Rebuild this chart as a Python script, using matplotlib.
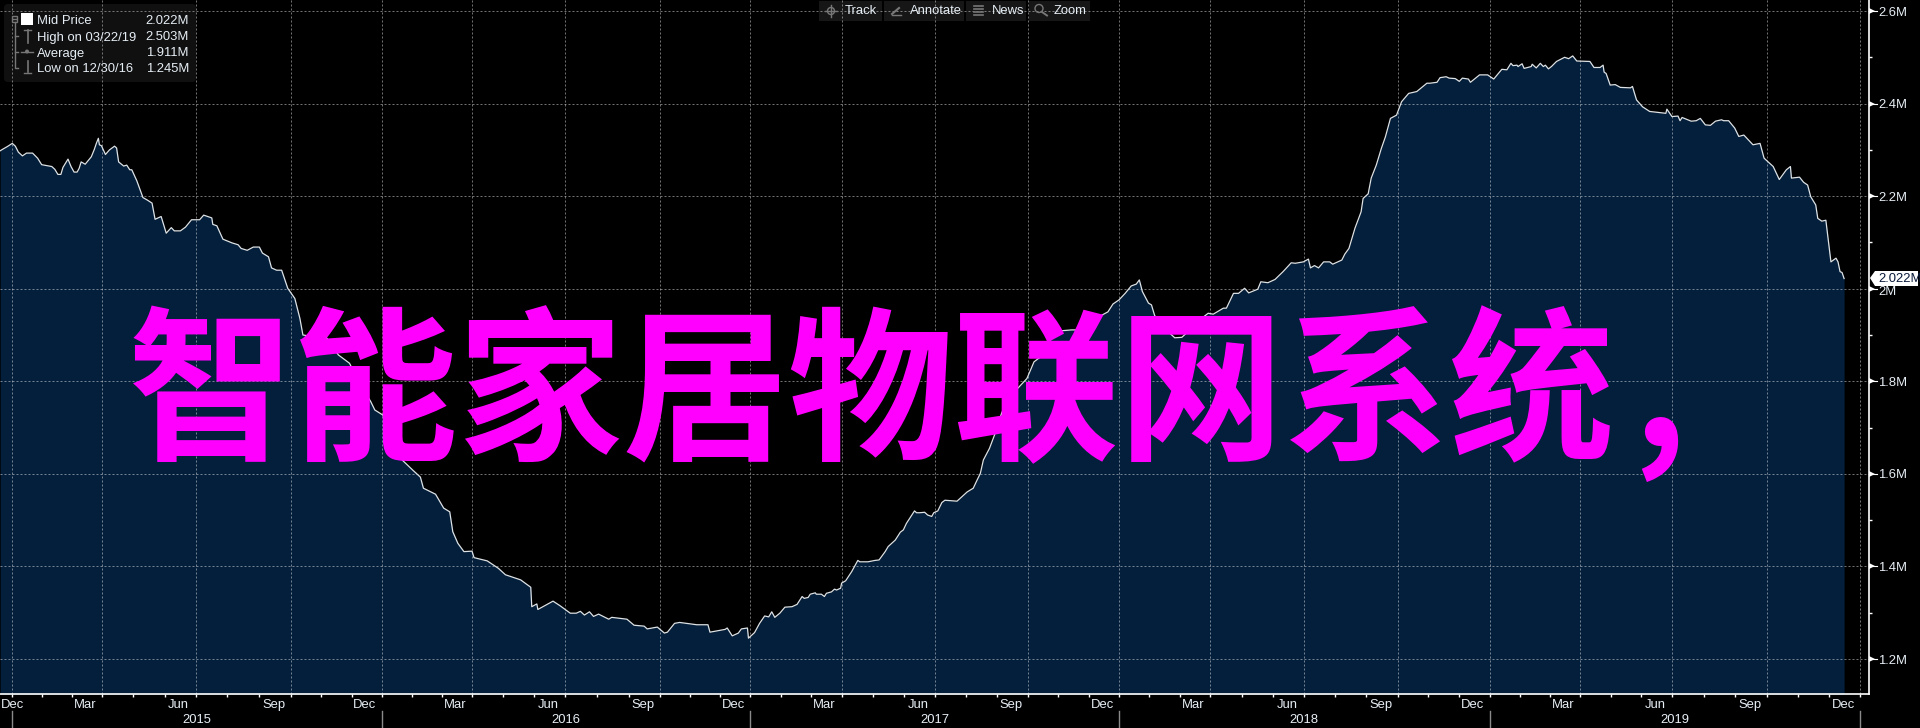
import matplotlib
matplotlib.use('Agg')
import matplotlib.pyplot as plt
from matplotlib.patches import Rectangle, FancyBboxPatch, Polygon, Circle

plt.rcParams['font.family'] = ['Liberation Sans', 'DejaVu Sans']

# dias desde el 31/12/2014
dias = [-12, -9, -5, 0, 3, 6, 10, 14, 20, 25, 29, 39, 42, 45, 48, 50, 55, 58, 61, 64, 66, 68, 72, 78, 81, 83, 85, 86, 88,
        92, 96, 101, 103, 105, 110, 113, 116, 118, 123, 129, 133, 138, 141, 147, 152, 157, 160, 166, 171, 177, 185, 189,
        197, 198, 202, 208, 217, 223, 226, 232, 238, 244, 247, 253, 256, 261, 266, 272, 279, 284, 287, 299, 310, 322,
        333, 343, 354, 358, 366, 375, 385, 396, 403, 406, 418, 426, 432, 435, 440, 446, 454, 456, 469, 480, 487, 502,
        512, 513, 518, 519, 534, 541, 551, 557, 561, 565, 570, 574, 579, 589, 592, 607, 614, 624, 627, 637, 644, 647,
        654, 659, 676, 687, 689, 704, 706, 711, 717, 720, 726, 727, 733, 738, 743, 747, 750, 753, 758, 763, 770, 775,
        780, 782, 786, 788, 793, 794, 799, 802, 804, 809, 812, 814, 818, 819, 823, 829, 835, 837, 845, 852, 856, 862,
        865, 872, 877, 880, 883, 891, 893, 896, 901, 904, 908, 910, 914, 918, 921, 933, 936, 943, 949, 952, 956, 959,
        965, 970, 977, 984, 993, 1002, 1009, 1015, 1025, 1035, 1046, 1053, 1056, 1061, 1071, 1082, 1087, 1093, 1099,
        1105, 1110, 1113, 1116, 1122, 1125, 1128, 1138, 1143, 1148, 1155, 1161, 1171, 1181, 1186, 1196, 1199, 1206,
        1211, 1217, 1221, 1230, 1233, 1240, 1247, 1255, 1263, 1267, 1275, 1280, 1282, 1286, 1290, 1295, 1301, 1304,
        1313, 1316, 1320, 1326, 1332, 1334, 1339, 1342, 1347, 1352, 1356, 1361, 1367, 1372, 1379, 1387, 1397, 1400,
        1407, 1410, 1416, 1419, 1425, 1429, 1432, 1438, 1440, 1449, 1457, 1463, 1471, 1476, 1480, 1482, 1486, 1487,
        1491, 1493, 1500, 1501, 1505, 1509, 1512, 1514, 1517, 1520, 1525, 1533, 1537, 1541, 1545, 1558, 1562, 1568,
        1571, 1572, 1574, 1578, 1583, 1588, 1598, 1600, 1604, 1610, 1617, 1633, 1634, 1639, 1645, 1647, 1649, 1658,
        1663, 1667, 1672, 1677, 1682, 1688, 1690, 1695, 1701, 1705, 1710, 1719, 1726, 1730, 1739, 1745, 1752, 1756,
        1757, 1765, 1769, 1773, 1776, 1781, 1783, 1787, 1791, 1793, 1796, 1801, 1803, 1805, 1807, 1809]
precio = [2.298, 2.302, 2.307, 2.314, 2.308, 2.295, 2.287, 2.293, 2.293, 2.282, 2.268, 2.264, 2.258, 2.247, 2.247, 2.262,
          2.280, 2.264, 2.252, 2.252, 2.260, 2.274, 2.269, 2.285, 2.301, 2.314, 2.325, 2.311, 2.309,
          2.290, 2.300, 2.308, 2.304, 2.274, 2.265, 2.267, 2.257, 2.257, 2.233, 2.197, 2.192, 2.185, 2.150, 2.156, 2.120,
          2.132, 2.125, 2.125, 2.133, 2.149, 2.149, 2.159,
          2.153, 2.139, 2.136, 2.107, 2.099, 2.095, 2.087, 2.083, 2.090, 2.090, 2.077, 2.069, 2.045, 2.040, 2.040, 2.001,
          1.979, 1.936, 1.900, 1.896, 1.895, 1.857,
          1.839, 1.796, 1.756, 1.738, 1.727, 1.680, 1.630, 1.607, 1.593, 1.569, 1.556, 1.526, 1.518, 1.475, 1.450, 1.432,
          1.433, 1.419, 1.412, 1.396, 1.382, 1.371,
          1.355, 1.313, 1.319, 1.307, 1.325, 1.315, 1.299, 1.299, 1.303, 1.295, 1.302, 1.292, 1.297, 1.286, 1.290, 1.286,
          1.273, 1.271, 1.265, 1.269, 1.256, 1.258,
          1.277, 1.279, 1.274, 1.274, 1.258, 1.264, 1.267, 1.250, 1.256, 1.265, 1.267, 1.245, 1.257, 1.277, 1.293, 1.291,
          1.302, 1.290, 1.299, 1.312, 1.313, 1.318,
          1.335, 1.331, 1.333, 1.340, 1.343, 1.340, 1.340, 1.335, 1.342, 1.345, 1.351, 1.349, 1.353, 1.364, 1.369, 1.389,
          1.413, 1.410, 1.410, 1.413, 1.414, 1.432,
          1.443, 1.457, 1.474, 1.479, 1.493, 1.520, 1.516, 1.516, 1.517, 1.511, 1.508, 1.516, 1.520, 1.538, 1.543, 1.541,
          1.547, 1.561, 1.569, 1.583, 1.601, 1.630,
          1.655, 1.684, 1.731, 1.767, 1.785, 1.806, 1.842, 1.852, 1.889, 1.909, 1.911, 1.911, 1.922, 1.924, 1.937, 1.950,
          1.967, 1.976, 1.990,
          2.006, 2.010, 2.019, 1.994, 1.969, 1.965, 1.943, 1.905, 1.904, 1.894, 1.895, 1.907, 1.930, 1.947, 1.945, 1.958,
          1.958, 1.990,
          1.990, 2.001, 1.991, 1.999, 2.015, 2.013, 2.020, 2.037, 2.056, 2.055, 2.058, 2.064, 2.045, 2.050, 2.045, 2.058,
          2.058, 2.053,
          2.062, 2.075, 2.087, 2.131, 2.166, 2.195, 2.205, 2.239, 2.267, 2.303, 2.328, 2.368, 2.375, 2.404, 2.422, 2.426,
          2.444, 2.444,
          2.446, 2.456, 2.458, 2.455, 2.454, 2.448, 2.455, 2.453, 2.446, 2.462, 2.462, 2.453, 2.474, 2.473, 2.487, 2.482,
          2.483, 2.480,
          2.486, 2.476, 2.480, 2.485, 2.477, 2.487, 2.480, 2.483, 2.475, 2.480, 2.491, 2.500, 2.497, 2.503, 2.492, 2.491,
          2.478, 2.478,
          2.483, 2.468, 2.465, 2.440, 2.441, 2.435, 2.434, 2.437, 2.408, 2.393, 2.383, 2.379, 2.388, 2.372, 2.373, 2.363,
          2.370, 2.362,
          2.363, 2.368, 2.354, 2.353, 2.362, 2.365, 2.363, 2.363, 2.347, 2.329, 2.332, 2.311, 2.314, 2.282, 2.264, 2.236,
          2.257, 2.264,
          2.239, 2.241, 2.230, 2.224, 2.199, 2.181, 2.152, 2.146, 2.148, 2.112, 2.058, 2.066, 2.058, 2.037, 2.035, 2.022]

dias_trimestre = [0, 89, 181, 275, 365, 454, 546, 640, 729, 819, 911, 1003, 1093, 1183, 1276, 1368, 1459, 1548, 1639,
                  1733, 1825]
meses = ['Dec', 'Mar', 'Jun', 'Sep'] * 5 + ['Dec']
anios = ['2015', '2016', '2017', '2018', '2019']
valores_y = [2.6, 2.4, 2.2, 2.0, 1.8, 1.6, 1.4, 1.2]
etiquetas_y = ['2.6M', '2.4M', '2.2M', '2M', '1.8M', '1.6M', '1.4M', '1.2M']
leyenda_nombres = ['Mid Price', 'High on 03/22/19', 'Average', 'Low on 12/30/16']
leyenda_valores = ['2.022M', '2.503M', '1.911M', '1.245M']
botones = ['Track', 'Annotate', 'News', 'Zoom']
titulo = '智能家居物联网系统'

FONDO = '#000000'
AZUL = '#031F3B'
TEXTO = '#E6EEF5'

fig = plt.figure(figsize=(19.2, 7.28), dpi=100, facecolor=FONDO)
ax = fig.add_axes([0, 34 / 728, 1869 / 1920, 694 / 728], facecolor=FONDO)

ax.fill_between(dias, precio, 1.0, color=AZUL, lw=0, zorder=1)
ax.plot(dias, precio, color='#DDE2E6', lw=0.9, zorder=3)
ax.set_xlim(-12.15, 1833.6)
ax.set_ylim(1.1244, 2.6238)

# grilla y ejes
ax.set_xticks(dias_trimestre)
ax.set_xticklabels([])
menores_x = []
for a, b in zip(dias_trimestre[:-1], dias_trimestre[1:]):
    menores_x += [a + (b - a) / 3, a + 2 * (b - a) / 3]
ax.set_xticks(menores_x, minor=True)
ax.set_yticks(valores_y)
ax.set_yticklabels([])
ax.set_yticks([2.5, 2.3, 2.1, 1.9, 1.7, 1.5, 1.3], minor=True)
ax.yaxis.tick_right()
ax.grid(True, which='major', color='#FFFFFF', alpha=0.45, lw=0.72, dashes=(2, 2), zorder=2)
ax.set_axisbelow(False)
ax.tick_params(axis='x', which='both', direction='out', length=2.4, width=1, color='white')
ax.tick_params(axis='y', which='minor', direction='out', length=2.4, width=1, color='white')
ax.tick_params(axis='y', which='major', length=0)
for lado in ['top', 'left']:
    ax.spines[lado].set_visible(False)
for lado in ['right', 'bottom']:
    ax.spines[lado].set_color('white')
    ax.spines[lado].set_linewidth(1.2)

# etiquetas de fecha
for i, (d, m) in enumerate(zip(dias_trimestre, meses)):
    despl = 0 if i == 0 else -17
    ax.annotate(m, xy=(d, 0), xycoords=('data', 'axes fraction'), xytext=(despl, -11), textcoords='offset pixels',
                ha='center', va='center', color=TEXTO, fontsize=9.4)
for i, anio in enumerate(anios):
    a = dias_trimestre[i * 4]
    b = dias_trimestre[(i + 1) * 4]
    ax.annotate(anio, xy=((a + b) / 2, 0), xycoords=('data', 'axes fraction'), xytext=(0, -26),
                textcoords='offset pixels', ha='center', va='center', color=TEXTO, fontsize=9.4)
for d in dias_trimestre[::4]:
    ax.plot([d, d], [-17 / 694, -34 / 694], transform=ax.get_xaxis_transform(), color='#8A8A8A', lw=1, clip_on=False)

# marcas mayores del eje y
for v, et in zip(valores_y, etiquetas_y):
    ax.plot([1, 1 + 8 / 1869], [v, v], transform=ax.get_yaxis_transform(), color='white', lw=0.8, clip_on=False)
    ax.plot([1 + 3 / 1869], [v], transform=ax.get_yaxis_transform(), marker='>', ms=4.5, color='white', mew=0,
            clip_on=False)
    ax.annotate(et, xy=(1, v), xycoords=('axes fraction', 'data'), xytext=(9, -1.5 if et != '2M' else -3),
                textcoords='offset pixels', ha='left', va='center', color=TEXTO, fontsize=9.4)

# capa de interfaz en pixeles
ui = fig.add_axes([0, 0, 1, 1], facecolor='none')
ui.set_xlim(0, 1920)
ui.set_ylim(728, 0)
ui.axis('off')

# leyenda
ui.add_patch(FancyBboxPatch((7, 7), 186, 72, boxstyle='round,pad=3,rounding_size=4', fc='#9A9A9A', alpha=0.11, ec='none'))
filas_y = [21.5, 37.5, 53.5, 69.5]
for fy, n, val in zip(filas_y, leyenda_nombres, leyenda_valores):
    ui.text(37, fy, n, color=TEXTO, fontsize=9.4, ha='left', va='center')
    ui.text(189, fy, val, color=TEXTO, fontsize=9.4, ha='right', va='center')
GRIS = '#777777'
ui.add_patch(Rectangle((21, 13), 12, 12, fc='white', ec='none'))
ui.add_patch(Rectangle((11.5, 15.5), 5.5, 6, fc='none', ec=GRIS, lw=1))
ui.plot([12.5, 16], [18.5, 18.5], color=GRIS, lw=1)
ui.plot([14.5, 14.5, 18], [22, 68, 68], color=GRIS, lw=1)
ui.plot([14.5, 18], [36, 36], color=GRIS, lw=1)
ui.plot([14.5, 18], [52, 52], color=GRIS, lw=1)
ui.plot([24, 31], [29.5, 29.5], color=GRIS, lw=1)
ui.plot([27.5, 27.5], [29.5, 43], color=GRIS, lw=1.2)
ui.plot([21, 33], [52, 52], color=GRIS, lw=1)
ui.add_patch(Circle((27, 51.5), 2, fc=GRIS, ec='none'))
ui.plot([27.5, 27.5], [61, 72], color=GRIS, lw=1.2)
ui.plot([24, 31], [72.5, 72.5], color=GRIS, lw=1)

# botones de arriba
cajas = [(819, 882), (884, 964), (966, 1026), (1029, 1090)]
textos_x = [845, 910, 992, 1054]
for (x0, x1), tx, b in zip(cajas, textos_x, botones):
    ui.add_patch(Rectangle((x0, 1), x1 - x0, 20, fc='#FFFFFF', alpha=0.09, ec='none'))
    ui.text(tx, 11.5, b, color=TEXTO, fontsize=9.4, ha='left', va='center')
ui.add_patch(Circle((831, 11), 3.5, fc='none', ec=GRIS, lw=1))
ui.plot([825, 837], [11, 11], color=GRIS, lw=1)
ui.plot([831, 831], [5, 17], color=GRIS, lw=1)
ui.plot([892, 899], [14, 8], color=GRIS, lw=1.5)
ui.plot([892, 901], [15, 15], color=GRIS, lw=1)
for fy in [6, 9, 12, 15]:
    ui.plot([974, 983], [fy, fy], color=GRIS, lw=1.2)
ui.add_patch(Circle((1039, 8.5), 4, fc='none', ec=GRIS, lw=1))
ui.plot([1042, 1047], [12, 15.5], color=GRIS, lw=1.4)

# etiqueta del ultimo precio
ui.add_patch(Polygon([(1870, 278), (1875, 271), (1918, 271), (1918, 286), (1875, 286)], fc='white', ec='none', zorder=5))
ui.text(1878, 279.5, '2.022M', color='#0A1A3A', fontsize=9.4, ha='left', va='center', zorder=6)

# titulo grande
cjk = ['Noto Sans CJK SC', 'DejaVu Sans']
ui.text(127, 447, titulo, color='#FF00FF', fontsize=119, fontweight='bold', ha='left', va='baseline',
        family=cjk, zorder=7)
ui.text(1632, 447, ',', color='#FF00FF', fontsize=119, fontweight='bold', ha='left', va='baseline',
        family=cjk, zorder=7)

fig.savefig('out.png', dpi=100, facecolor=FONDO)
